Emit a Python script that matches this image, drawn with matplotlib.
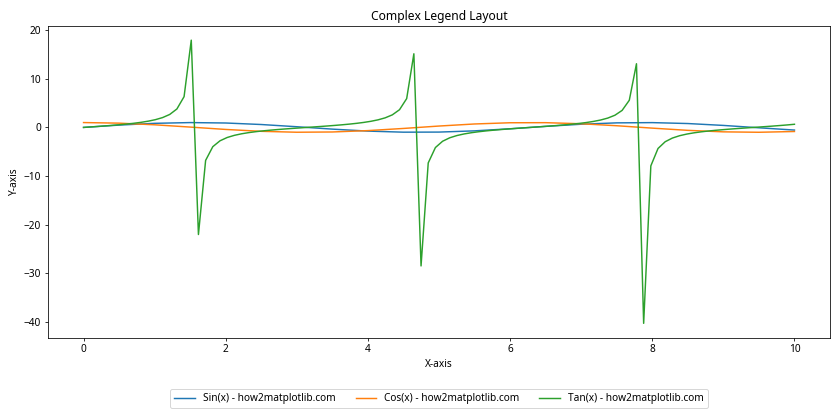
#!/usr/bin/env python3
"""Sin, cos and tan curves with the legend laid out in one row under the axes."""
import matplotlib

matplotlib.use("Agg")
import matplotlib.pyplot as plt
import numpy as np

plt.rcParams["font.family"] = ["Noto Sans", "DejaVu Sans"]
plt.rcParams["font.size"] = 10.4

# sin / cos read every 0.5 on x (they are nearly flat at this scale)
x_trig = [0.0, 0.5, 1.0, 1.5, 2.0, 2.5, 3.0, 3.5, 4.0, 4.5, 5.0,
          5.5, 6.0, 6.5, 7.0, 7.5, 8.0, 8.5, 9.0, 9.5, 10.0]
sin_values = [0.0, 0.479, 0.841, 0.997, 0.909, 0.598, 0.141, -0.351, -0.757, -0.978, -0.959,
              -0.706, -0.279, 0.215, 0.657, 0.938, 0.989, 0.799, 0.412, -0.075, -0.544]
cos_values = [1.0, 0.878, 0.540, 0.071, -0.416, -0.801, -0.990, -0.937, -0.654, -0.211, 0.284,
              0.709, 0.960, 0.977, 0.754, 0.347, -0.146, -0.602, -0.911, -0.997, -0.839]

# tan sampled on 100 points between 0 and 10
tan_values = [
    0.0, 0.101, 0.205, 0.313, 0.428, 0.553, 0.693, 0.854, 1.046, 1.284,
    1.593, 2.020, 2.668, 3.795, 6.331, 17.95, -22.03, -6.783, -3.960, -2.753,
    -2.073, -1.630, -1.312, -1.068, -0.872, -0.708, -0.566, -0.440, -0.324, -0.216,
    -0.112, -0.010, 0.091, 0.194, 0.301, 0.416, 0.540, 0.678, 0.837, 1.025,
    1.257, 1.557, 1.969, 2.586, 3.642, 5.934, 15.15, -28.49, -7.303, -4.138,
    -2.844, -2.129, -1.668, -1.340, -1.091, -0.891, -0.724, -0.580, -0.452, -0.335,
    -0.226, -0.122, -0.021, 0.081, 0.183, 0.290, 0.403, 0.526, 0.663, 0.819,
    1.004, 1.231, 1.522, 1.920, 2.509, 3.501, 5.584, 13.10, -40.30, -7.906,
    -4.333, -2.940, -2.187, -1.707, -1.369, -1.113, -0.909, -0.740, -0.594, -0.465,
    -0.347, -0.237, -0.133, -0.031, 0.070, 0.173, 0.279, 0.392, 0.513, 0.648,
]
x_tan = np.linspace(0, 10, len(tan_values))

labels = ["Sin(x) - how2matplotlib.com", "Cos(x) - how2matplotlib.com", "Tan(x) - how2matplotlib.com"]

# 12x6 inches at 70 dpi -> 840x420 pixels
fig = plt.figure(figsize=(12, 6), dpi=70)
ax = fig.add_axes([48 / 840, 1 - 337.5 / 420, 782 / 840, 311.5 / 420])

ax.plot(x_trig, sin_values, color="tab:blue", label=labels[0])
ax.plot(x_trig, cos_values, color="tab:orange", label=labels[1])
ax.plot(x_tan, tan_values, color="tab:green", label=labels[2])

ax.set_title("Complex Legend Layout")
ax.set_xlabel("X-axis")
ax.set_ylabel("Y-axis")

ax.legend(loc="upper center", bbox_to_anchor=(439 / 840, 1 - 389 / 420),
          bbox_transform=fig.transFigure, borderaxespad=0, ncol=3)

fig.savefig("out.png", dpi=70)
